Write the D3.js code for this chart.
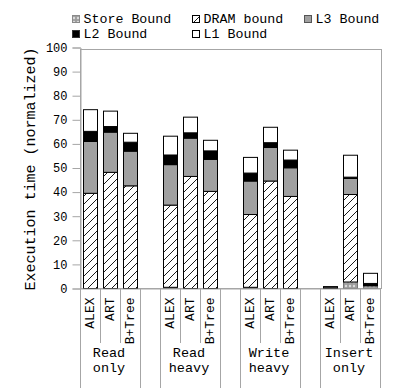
<!DOCTYPE html>
<html>
<head>
<meta charset="utf-8">
<script src="https://cdnjs.cloudflare.com/ajax/libs/d3/7.8.5/d3.min.js"></script>
<style>
  body { margin: 0; background: #fff; }
  text { font-family: "Liberation Mono", "DejaVu Sans Mono", monospace; fill: #000; }
</style>
</head>
<body>
<div class="graph"></div>
<script>
// ========= data ============
let workloads = ["Read only", "Read heavy", "Write heavy", "Insert only"]
let indexes = ["ALEX", "ART", "B+Tree"]
let seriesNames = ["Store Bound", "DRAM bound", "L3 Bound", "L2 Bound", "L1 Bound"]

// one value per bar, bars go workload by workload, ALEX / ART / B+Tree
let storeBound = [0, 0, 0,   0.5, 0, 0,   0.5, 0, 0,   0, 2.7, 1.1]
let dramBound  = [39.5, 48.2, 42.6,   34.1, 46.5, 40.3,   30.2, 44.6, 38.2,   0.3, 36.3, 0]
let l3Bound    = [21.5, 16.7, 14.4,   16.8, 15.9, 13.3,   13.9, 13.9, 11.9,   0, 6.7, 0.2]
let l2Bound    = [4.2, 2.3, 3.7,   4, 2.2, 3.5,   3.3, 2, 3.2,   0, 0.5, 0.8]
let l1Bound    = [9, 6.4, 3.7,   7.8, 6.5, 4.4,   6.5, 6.4, 4.1,   0.5, 9.1, 4.2]

let yTicks = [0, 10, 20, 30, 40, 50, 60, 70, 80, 90, 100]

// ========= layout ============
let width = 395, height = 388
let plotLeft = 80, plotRight = 380, plotTop = 47.5, plotBottom = 288.5

let svg = d3.select('.graph').append('svg')
    .attr("width", width)
    .attr("height", height)

// patterns
let defs = svg.append("defs")
let hatch = defs.append("pattern")
    .attr("id", "hatch")
    .attr("patternUnits", "userSpaceOnUse")
    .attr("width", 8).attr("height", 8)
hatch.append("rect").attr("width", 8).attr("height", 8).attr("fill", "#fff")
hatch.append("path")
    .attr("d", "M0,8 L8,0 M-2,2 L2,-2 M6,10 L10,6")
    .attr("stroke", "#000").attr("stroke-width", 0.9)

let diamonds = defs.append("pattern")
    .attr("id", "diamonds")
    .attr("patternUnits", "userSpaceOnUse")
    .attr("width", 4).attr("height", 4)
diamonds.append("rect").attr("width", 4).attr("height", 4).attr("fill", "#9c9c9c")
diamonds.append("path").attr("d", "M2,0.6 L3.4,2 L2,3.4 L0.6,2Z").attr("fill", "#e4e4e4")

let fills = ["url(#diamonds)", "url(#hatch)", "#a0a0a0", "#000", "#fff"]

// slots: 3 bars per workload plus an empty slot between workloads
let slots = []
workloads.forEach(function (w, i) {
    indexes.forEach(function (b) { slots.push(w + "|" + b) })
    if (i < workloads.length - 1) slots.push("gap" + i)
})

let x = d3.scaleBand()
    .domain(slots)
    .range([plotLeft, plotRight])
    .paddingInner(0)
    .paddingOuter(0)

let y = d3.scaleLinear()
    .domain([0, 100])
    .range([plotBottom, plotTop])

// table for d3.stack
let rows = []
let n = 0
workloads.forEach(function (w) {
    indexes.forEach(function (b) {
        rows.push({
            key: w + "|" + b,
            s0: storeBound[n], s1: dramBound[n], s2: l3Bound[n], s3: l2Bound[n], s4: l1Bound[n]
        })
        n++
    })
})

let stack = d3.stack().keys(["s0", "s1", "s2", "s3", "s4"])
let layers = stack(rows)

// ========= frame + axes ============
svg.append("rect")
    .attr("x", plotLeft + 0.5).attr("y", 49.5)
    .attr("width", plotRight - plotLeft + 1).attr("height", plotBottom - 49.5)
    .attr("fill", "none").attr("stroke", "#a6a6a6").attr("stroke-width", 1)

let yAxisCall = d3.axisLeft(y).tickValues(yTicks).tickSize(8).tickPadding(5)
let gy = svg.append("g")
    .attr("transform", "translate(" + (plotLeft + 0.5) + ",0)")
    .call(yAxisCall)
gy.select(".domain").attr("stroke", "#a6a6a6")
gy.selectAll(".tick line").attr("stroke", "#a6a6a6")
gy.selectAll(".tick text")
    .style("font-family", "Liberation Mono, monospace")
    .style("font-size", "12px")
    .attr("fill", "#000")

svg.append("text")
    .attr("transform", "translate(35," + ((plotTop + plotBottom) / 2 + 1) + ") rotate(-90)")
    .attr("text-anchor", "middle")
    .style("font-size", "15px")
    .text("Execution time (normalized)")

// ========= bars ============
let barW = 14
layers.forEach(function (layer, i) {
    svg.append("g")
        .selectAll("rect")
        .data(layer)
        .enter().append("rect")
        .attr("x", function (d) { return Math.round(x(d.data.key) + (x.bandwidth() - barW) / 2) + 0.5 })
        .attr("y", function (d) { return y(d[1]) })
        .attr("width", barW)
        .attr("height", function (d) { return y(d[0]) - y(d[1]) })
        .attr("fill", fills[i])
        .attr("stroke", i == 0 ? "#777" : "#000")
        .attr("stroke-width", function (d) { return d[1] - d[0] > 0 ? 1 : 0 })
})

// ========= category axis ============
svg.append("line")
    .attr("x1", plotLeft).attr("x2", plotRight + 1)
    .attr("y1", plotBottom + 0.5).attr("y2", plotBottom + 0.5)
    .attr("stroke", "#a6a6a6")

// separators: long between groups, short inside a group
let bounds = slots.map(function (s) { return x(s) }).concat([plotRight])
bounds.forEach(function (bx, i) {
    let inner = i < slots.length && i > 0 && slots[i].indexOf("|") > 0 && slots[i - 1].indexOf("|") > 0
    svg.append("line")
        .attr("x1", bx + 0.5).attr("x2", bx + 0.5)
        .attr("y1", plotBottom).attr("y2", inner ? 343 : height)
        .attr("stroke", "#a6a6a6")
})

svg.append("g")
    .selectAll("text")
    .data(rows)
    .enter().append("text")
    .attr("transform", function (d) {
        return "translate(" + (x(d.key) + x.bandwidth() / 2 + 4) + ",297.5) rotate(-90)"
    })
    .attr("text-anchor", "end")
    .style("font-size", "13px")
    .text(function (d) { return d.key.split("|")[1] })

workloads.forEach(function (w) {
    let cx = x(w + "|ART") + x.bandwidth() / 2 - 1
    let parts = w.split(" ")
    let t = svg.append("text")
        .attr("text-anchor", "middle")
        .style("font-size", "13.5px")
    t.append("tspan").attr("x", cx).attr("y", 357).text(parts[0])
    t.append("tspan").attr("x", cx).attr("y", 371.5).text(parts[1])
})

// ========= legend ============
let legendPos = [[72, 15], [192, 15], [304, 15], [72, 30], [192, 30]]
let swatchFill = ["url(#diamonds)", "url(#hatch)", "#a0a0a0", "#000", "#fff"]
let swatchStroke = ["#8a8a8a", "#000", "#555", "#333", "#000"]

seriesNames.forEach(function (name, i) {
    let p = legendPos[i]
    svg.append("rect")
        .attr("x", p[0] + 0.5).attr("y", p[1] + 0.5)
        .attr("width", 7).attr("height", 7)
        .attr("fill", swatchFill[i])
        .attr("stroke", swatchStroke[i])
    svg.append("text")
        .attr("x", p[0] + 11.5).attr("y", p[1] + 7.5)
        .style("font-size", "13.3px")
        .text(name)
})
</script>
</body>
</html>
